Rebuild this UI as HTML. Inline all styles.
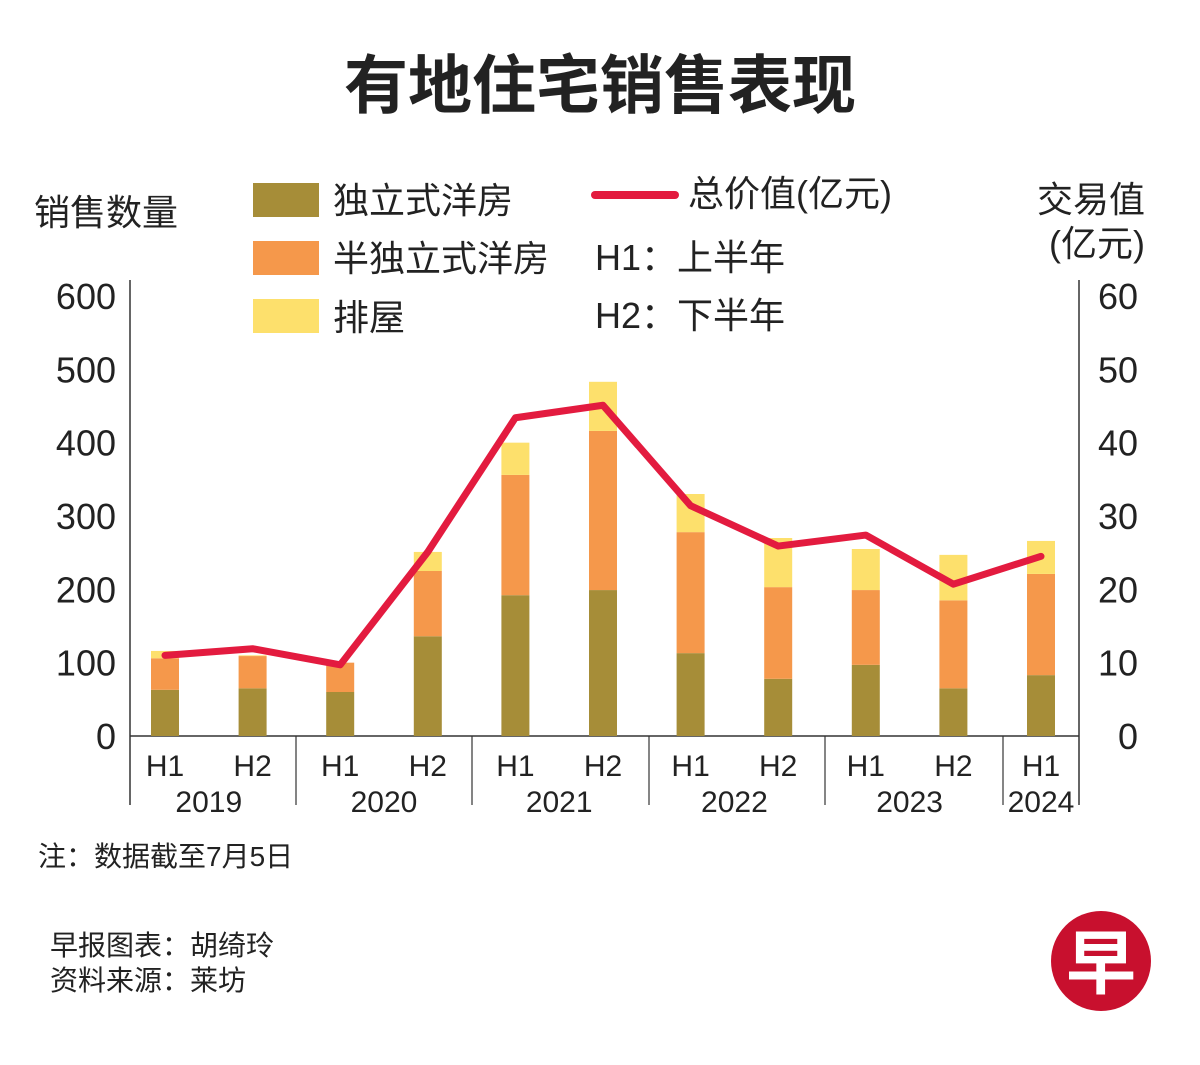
<!DOCTYPE html>
<html><head><meta charset="utf-8"><style>
body{margin:0;background:#fff;width:1200px;height:1060px;overflow:hidden;font-family:"Liberation Sans","Noto Sans CJK SC",sans-serif;}
svg text{font-family:"Liberation Sans","Noto Sans CJK SC",sans-serif;fill:#222;}
</style></head><body>
<svg width="1200" height="1060">
<text x="600" y="108" text-anchor="middle" font-size="64" font-weight="bold" fill="#111">有地住宅销售表现</text>
<text x="34" y="225" font-size="36">销售数量</text>
<text x="1145" y="212" text-anchor="end" font-size="36">交易值</text>
<text x="1145" y="256" text-anchor="end" font-size="36">(亿元)</text>
<g>
<rect x="253" y="183" width="66" height="34" fill="#a68d38"/>
<text x="333" y="213" font-size="36">独立式洋房</text>
<rect x="253" y="241" width="66" height="34" fill="#f5984b"/>
<text x="333" y="271" font-size="36">半独立式洋房</text>
<rect x="253" y="299" width="66" height="34" fill="#fde06c"/>
<text x="333" y="330" font-size="36">排屋</text>
<line x1="595" y1="195" x2="675" y2="195" stroke="#e31b3f" stroke-width="8" stroke-linecap="round"/>
<text x="688" y="206" font-size="36">总价值(亿元)</text>
<text x="595" y="270" font-size="36">H1：上半年</text>
<text x="595" y="328" font-size="36">H2：下半年</text>
</g>
<g id="axes"></g>
<g id="bars"></g>
<g id="line"></g>
<text x="38" y="866" font-size="28">注：数据截至7月5日</text>
<text x="50" y="955" font-size="28">早报图表：胡绮玲</text>
<text x="50" y="990" font-size="28">资料来源：莱坊</text>
<g>
<circle cx="1101" cy="961" r="50" fill="#c8102e"/>
<text x="1101" y="988" text-anchor="middle" font-size="70" font-weight="bold" style="fill:#fff">早</text>
</g>
</svg>
<script>
const categories=["H1","H2","H1","H2","H1","H2","H1","H2","H1","H2","H1"];
const years=["2019","2020","2021","2022","2023","2024"];
const detached=[63,65,60,136,192,199,113,78,97,65,83];
const semi=[43,44,40,89,164,217,165,125,102,120,138];
const terrace=[10,1,0,26,44,67,52,67,56,62,45];
const totalValue=[11.0,11.9,9.7,25.1,43.4,45.1,31.4,25.9,27.4,20.7,24.5];
const leftTicks=[0,100,200,300,400,500,600];
const rightTicks=[0,10,20,30,40,50,60];
const NS="http://www.w3.org/2000/svg";
const y0=736,yTop=296;
const yL=v=>y0-(v/600)*(y0-yTop);
const yR=v=>y0-(v/60)*(y0-yTop);
const xC=i=>165+i*87.6;
function mk(t,a,p){const e=document.createElementNS(NS,t);for(const k in a)e.setAttribute(k,a[k]);p.appendChild(e);return e;}
const ax=document.getElementById('axes');
let l=mk('line',{x1:130,y1:280,x2:130,y2:805,stroke:'#333','stroke-width':1.5},ax);

l=mk('line',{x1:1079,y1:280,x2:1079,y2:805,stroke:'#333','stroke-width':1.5},ax);

l=mk('line',{x1:130,y1:y0,x2:1079,y2:y0,stroke:'#333','stroke-width':1.5},ax);

leftTicks.forEach(v=>{const t=mk('text',{x:116,y:yL(v)+13,'text-anchor':'end','font-size':36},ax);t.textContent=v;
});
rightTicks.forEach(v=>{const t=mk('text',{x:1138,y:yR(v)+13,'text-anchor':'end','font-size':36},ax);t.textContent=v;
});
[296,472,649,825,1003].forEach(x=>{const s=mk('line',{x1:x,y1:y0,x2:x,y2:805,stroke:'#333','stroke-width':1.2},ax);
});
categories.forEach((c,i)=>{const t=mk('text',{x:xC(i),y:776,'text-anchor':'middle','font-size':30},ax);t.textContent=c;
});
years.forEach((y,j)=>{const i0=j*2,i1=Math.min(j*2+1,categories.length-1);const t=mk('text',{x:(xC(i0)+xC(i1))/2,y:812,'text-anchor':'middle','font-size':30},ax);t.textContent=y;
});
const bg=document.getElementById('bars');
categories.forEach((c,i)=>{let base=0;
[[detached,'#a68d38','bar-detached'],[semi,'#f5984b','bar-semi-detached'],[terrace,'#fde06c','bar-terrace']].forEach(([arr,col,nm])=>{
const v=arr[i];const r=mk('rect',{x:xC(i)-14,y:yL(base+v),width:28,height:yL(base)-yL(base+v),fill:col},bg);
base+=v;});});
const lg=document.getElementById('line');
const p=mk('polyline',{points:totalValue.map((v,i)=>xC(i)+','+yR(v)).join(' '),fill:'none',stroke:'#e31b3f','stroke-width':7,'stroke-linejoin':'round','stroke-linecap':'round'},lg);

</script>
</body></html>
